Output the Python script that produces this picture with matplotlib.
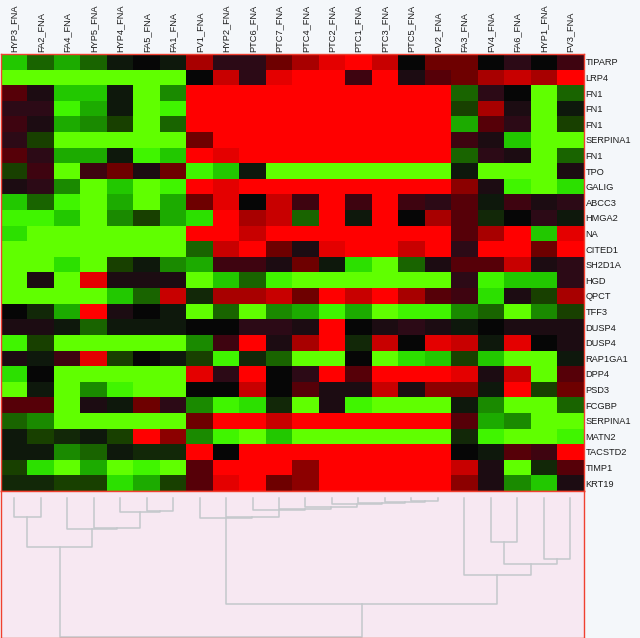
import matplotlib
matplotlib.use('Agg')
import matplotlib.pyplot as plt
from matplotlib.colors import ListedColormap

plt.rcParams['font.family'] = ['Liberation Sans', 'DejaVu Sans']

amostras = ['HYP3_FNA', 'FA2_FNA', 'FA4_FNA', 'HYP5_FNA', 'HYP4_FNA', 'FA5_FNA', 'FA1_FNA', 'FV1_FNA',
            'HYP2_FNA', 'PTC6_FNA', 'PTC7_FNA', 'PTC4_FNA', 'PTC2_FNA', 'PTC1_FNA', 'PTC3_FNA', 'PTC5_FNA',
            'FV2_FNA', 'FA3_FNA', 'FV4_FNA', 'FA6_FNA', 'HYP1_FNA', 'FV3_FNA']
genes = ['TIPARP', 'LRP4', 'FN1', 'FN1', 'FN1', 'SERPINA1', 'FN1', 'TPO', 'GALIG', 'ABCC3', 'HMGA2', 'NA',
         'CITED1', 'SH2D1A', 'HGD', 'QPCT', 'TFF3', 'DUSP4', 'DUSP4', 'RAP1GA1', 'DPP4', 'PSD3', 'FCGBP',
         'SERPINA1', 'MATN2', 'TACSTD2', 'TIMP1', 'KRT19']

# Expression per gene, -10 (green) to 10 (red)
valores = [
    [-7, -4, -6, -4, -1, 0, -1, 7, 2, 2, 5, 7, 9, 10, 8, 0, 5, 5, 0, 2, 0, 3],
    [-10, -10, -10, -10, -10, -10, -10, 0, 8, 2, 9, 10, 10, 3, 10, 1, 4, 5, 7, 8, 7, 10],
    [4, 1, -7, -7, -1, -10, -5, 10, 10, 10, 10, 10, 10, 10, 10, 10, 10, -4, 2, 0, -10, -4],
    [2, 2, -9, -6, -1, -10, -9, 10, 10, 10, 10, 10, 10, 10, 10, 10, 10, -3, 7, 1, -10, -1],
    [3, 1, -6, -5, -3, -10, -4, 10, 10, 10, 10, 10, 10, 10, 10, 10, 10, -6, 4, 2, -10, -3],
    [2, -3, -10, -10, -10, -10, -10, 5, 10, 10, 10, 10, 10, 10, 10, 10, 10, 3, 1, -7, -10, -10],
    [4, 2, -6, -6, -1, -9, -7, 10, 9, 10, 10, 10, 10, 10, 10, 10, 10, -4, 2, 1, -10, -4],
    [-3, 3, -10, 3, 5, 1, 5, -9, -7, -1, -10, -10, -10, -10, -10, -10, -10, -1, -10, -10, -10, 1],
    [1, 2, -5, -10, -7, -10, -9, 10, 9, 10, 10, 10, 10, 10, 10, 10, 10, 6, 1, -9, -10, -8],
    [-7, -4, -9, -10, -6, -10, -6, 5, 9, 0, 8, 3, 10, 3, 10, 3, 2, 4, -1, 3, 1, 2],
    [-9, -9, -7, -10, -5, -3, -6, -8, 10, 7, 8, -4, 10, -1, 10, 0, 7, 4, -2, 0, 2, -1],
    [-8, -10, -10, -10, -10, -10, -10, 10, 10, 8, 10, 10, 10, 10, 10, 10, 10, 4, 7, 10, -7, 9],
    [-10, -10, -10, -10, -10, -10, -10, -4, 8, 10, 5, 1, 9, 10, 10, 8, 10, 2, 10, 10, 5, 10],
    [-10, -10, -8, -10, -3, -1, -5, -6, 3, 3, 1, 5, -1, -8, -10, -4, 1, 4, 4, 8, 1, 2],
    [-10, 1, -10, 9, 1, 1, 1, -10, -7, -4, -9, -10, -10, -10, -10, -10, -10, 2, -9, -7, -7, 2],
    [-10, -10, -10, -10, -7, -4, 8, -2, 7, 7, 8, 5, 10, 8, 10, 7, 4, 3, -8, 1, -3, 7],
    [0, -2, -6, 10, 1, 0, -1, -10, -4, -10, -5, -6, -9, -6, -10, -9, -9, -5, -4, -10, -5, -3],
    [1, 1, -1, -4, -1, -1, -1, 0, 0, 2, 2, 1, 10, 0, 1, 2, 1, -1, 0, 1, 1, 1],
    [-9, -3, -10, -10, -10, -10, -10, -5, 3, 10, 1, 7, 10, -2, 8, 0, 9, 8, -1, 9, 0, 1],
    [1, -1, 3, 9, -3, 0, -1, -3, -9, -2, -4, -10, -10, 0, -10, -8, -7, -3, -7, -10, -10, -1],
    [-8, 0, -10, -10, -10, -10, -10, 9, 2, 10, 0, 2, 10, 4, 10, 10, 10, 9, 1, 8, -10, 4],
    [-10, -1, -10, -5, -9, -10, -10, 0, 0, 8, 0, 4, 1, 1, 8, 1, 6, 6, -1, 10, -3, 5],
    [4, 4, -10, 1, -1, 5, 2, -5, -9, -8, -2, -10, 1, -9, -10, -10, -10, -1, -5, -10, -10, -4],
    [-4, -5, -10, -10, -10, -10, -10, 5, 10, 10, 8, 10, 10, 10, 10, 10, 10, 4, -6, -5, -10, -10],
    [-1, -3, -2, -1, -3, 10, 6, -5, -9, -10, -7, -10, -10, -10, -10, -10, -10, -2, -9, -10, -10, -9],
    [-1, -1, -5, -4, -1, -2, -2, 10, 0, 10, 10, 10, 10, 10, 10, 10, 10, 0, -1, 4, 3, 10],
    [-3, -8, -10, -6, -10, -9, -10, 4, 10, 10, 10, 6, 10, 10, 10, 10, 10, 8, 1, -10, -2, 4],
    [-2, -2, -3, -3, -8, -6, -3, 4, 9, 10, 5, 6, 10, 10, 10, 10, 10, 6, 1, -5, -7, 1],
]

# Dendrogram joins: ids below 22 are leaves, 22 and up are earlier joins
juncao_esq = [0, 5, 4, 3, 2, 22, 15, 14, 13, 12, 11, 10, 9, 8, 7, 18, 20, 37, 17, 36, 27]
juncao_dir = [1, 6, 23, 24, 25, 26, 16, 28, 29, 30, 31, 32, 33, 34, 35, 19, 21, 38, 39, 40, 41]
juncao_alt = [26, 20, 21, 37, 38, 56, 10, 11, 12, 13, 16, 18, 19, 26, 27, 51, 68, 73, 84, 113, 146]

cores = ['#60ff00', '#40f500', '#2ce000', '#22c800', '#1cab00', '#1a8a00', '#196400', '#184000',
         '#122808', '#0e180c', '#060606', '#1c0c12', '#2c0a16', '#3e0410', '#560008', '#6e0000',
         '#8c0000', '#a80000', '#c80000', '#e40000', '#ff0000']
cmap = ListedColormap(cores)

fig = plt.figure(figsize=(6.4, 6.38), dpi=100, facecolor='#f4f7fa')

ax = fig.add_axes([1 / 640, 1 - 491 / 638, 582.5 / 640, 437 / 638])
ax.imshow(valores, cmap=cmap, vmin=-10.5, vmax=10.5, aspect='auto', interpolation='nearest')
ax.xaxis.tick_top()
ax.set_xticks(range(len(amostras)))
ax.set_xticklabels(amostras, rotation=90, fontsize=6.7, color='#1c1c1c')
ax.yaxis.tick_right()
ax.set_yticks(range(len(genes)))
ax.set_yticklabels(genes, fontsize=6.7, color='#1c1c1c')
ax.tick_params(length=0, pad=1.5)
for lado in ax.spines.values():
    lado.set_color('#f04030')
    lado.set_linewidth(1)

# Dendrogram under the heatmap
ax2 = fig.add_axes([1 / 640, 0, 582.5 / 640, 147 / 638], facecolor='#f7e8f2')
ax2.set_xlim(-0.5, len(amostras) - 0.5)
ax2.set_ylim(147, 0)
ax2.set_xticks([])
ax2.set_yticks([])
for lado in ax2.spines.values():
    lado.set_color('#f04030')
    lado.set_linewidth(1)

base = 7
pos = {i: (i, base) for i in range(len(amostras))}
novo = len(amostras)
for e, d, h in zip(juncao_esq, juncao_dir, juncao_alt):
    xe, ye = pos[e]
    xd, yd = pos[d]
    ax2.plot([xe, xe, xd, xd], [ye, h, h, yd], color='#c4c8cc', lw=1.1, clip_on=False)
    pos[novo] = ((xe + xd) / 2, h)
    novo += 1

fig.savefig('out.png', dpi=100, facecolor=fig.get_facecolor())
